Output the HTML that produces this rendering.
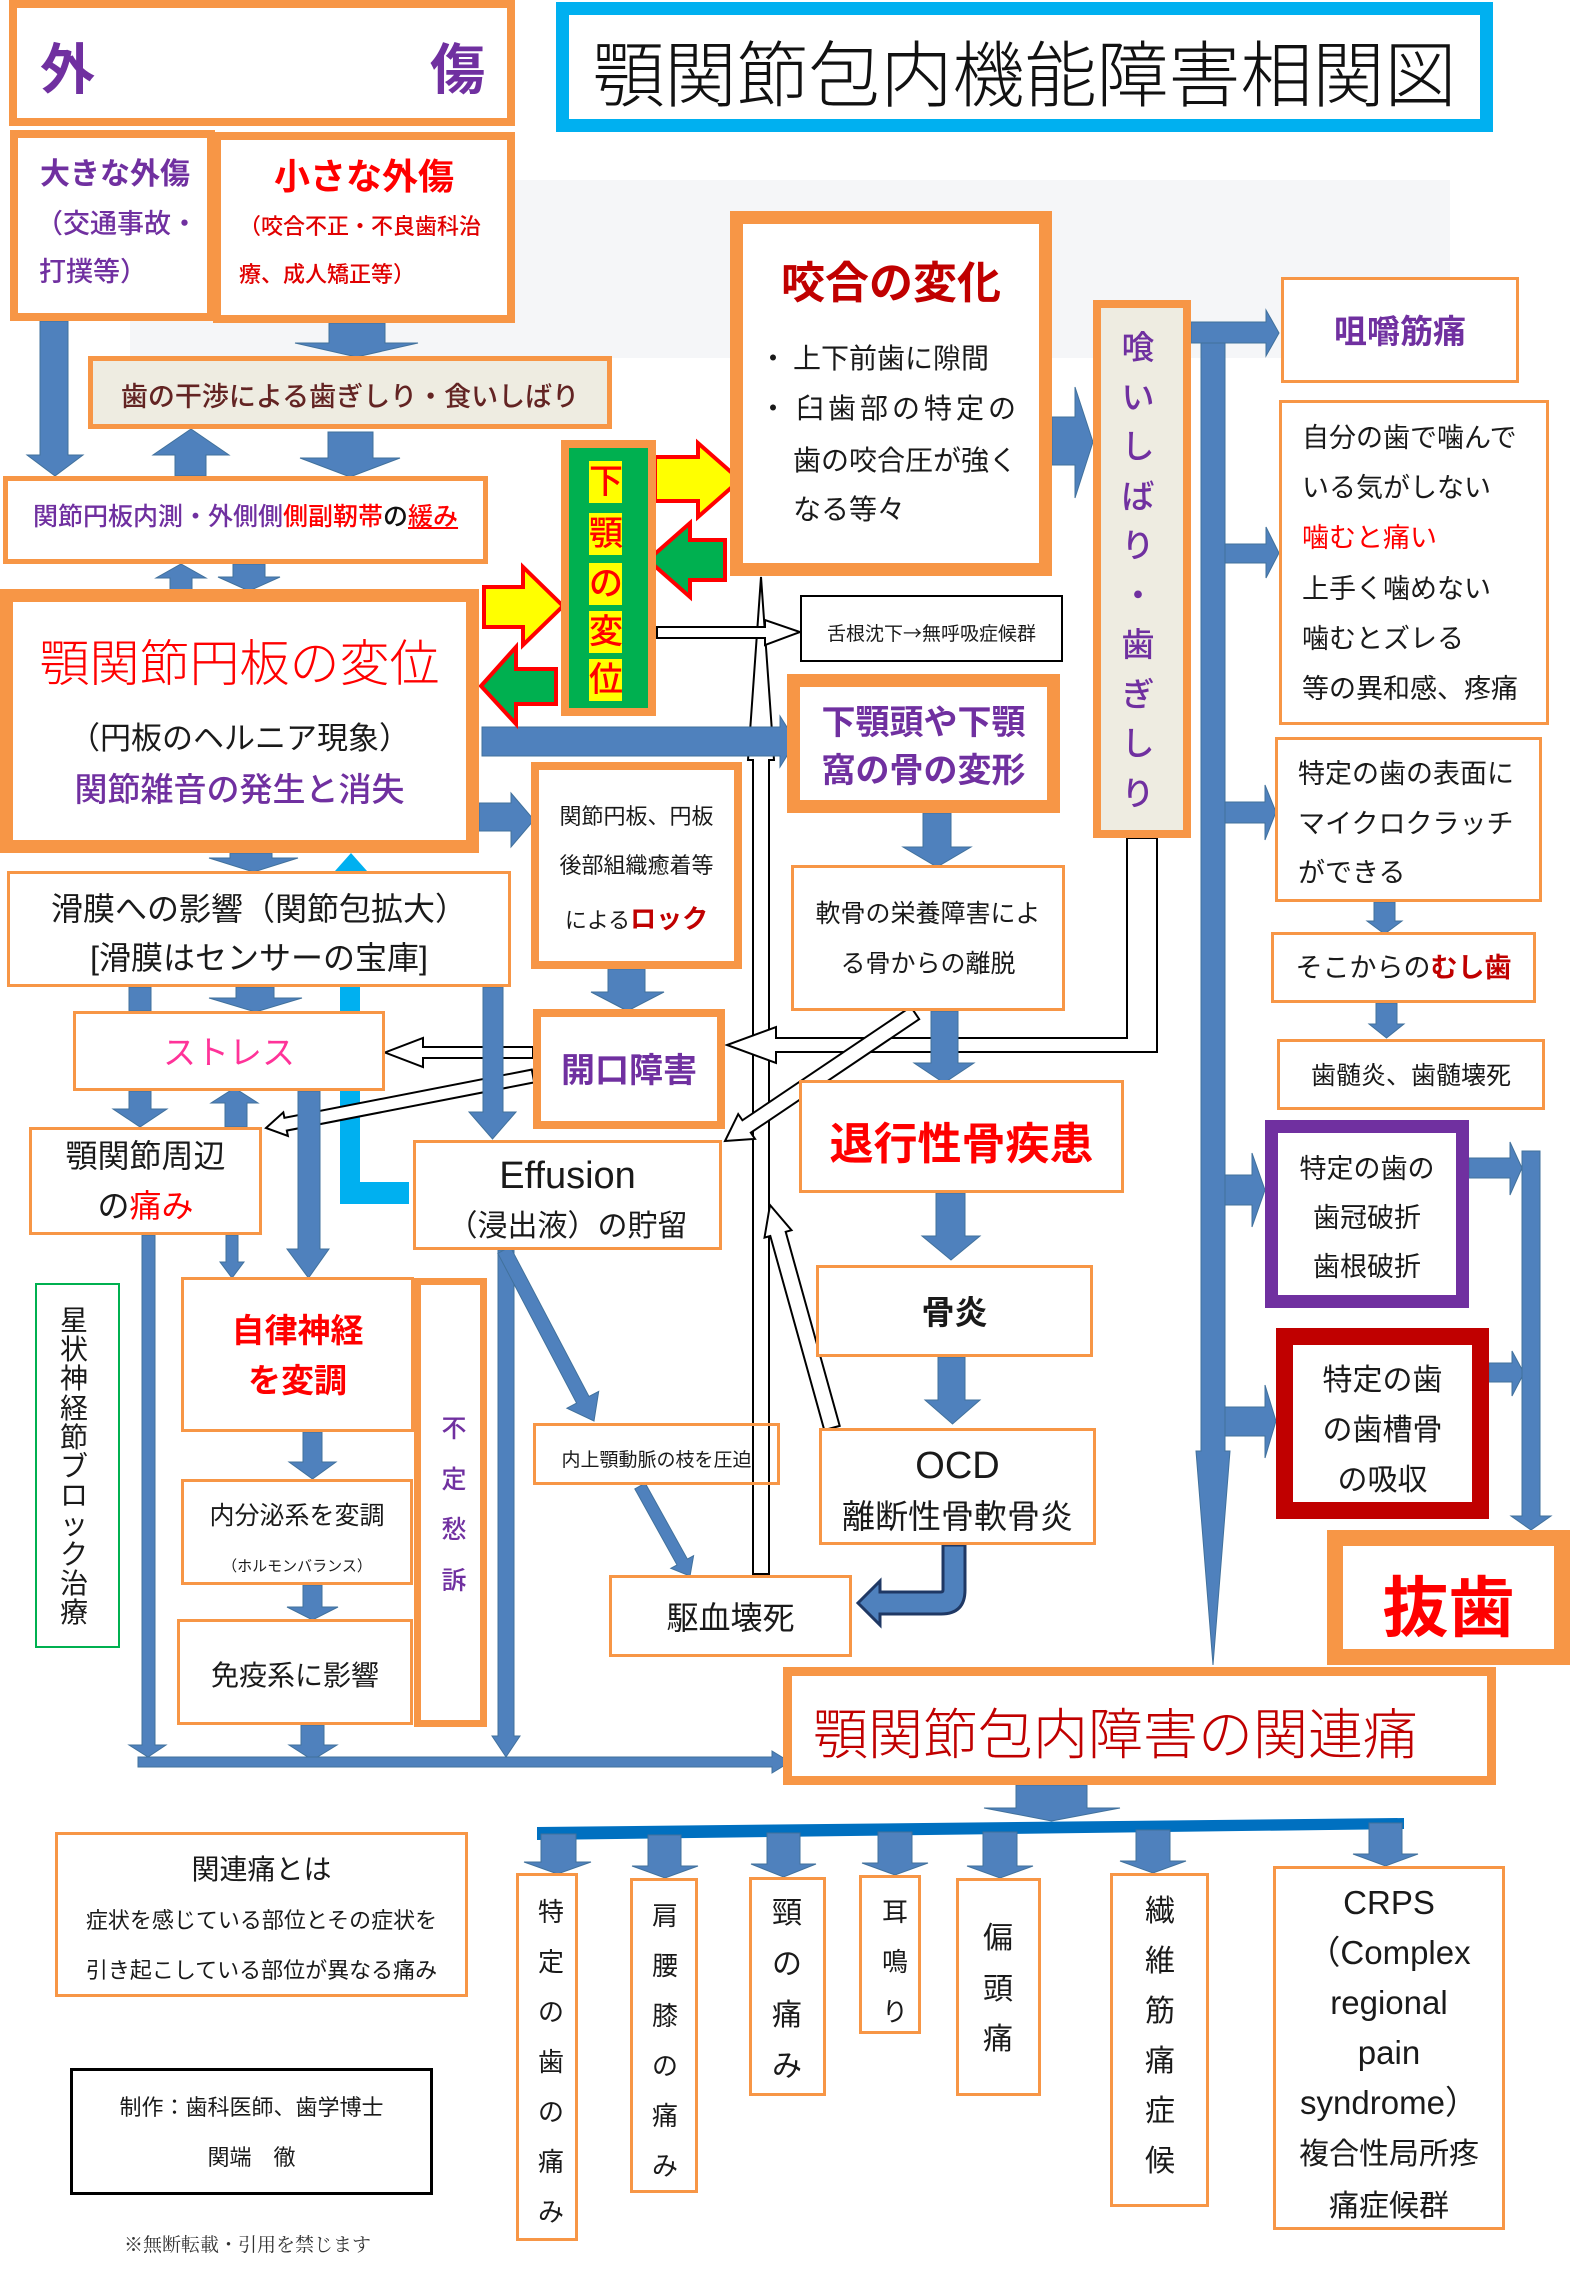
<!DOCTYPE html>
<html><head><meta charset="utf-8"><style>
html,body{margin:0;padding:0;background:#fff}
#p{position:relative;width:1570px;height:2270px;overflow:hidden;background:#fff;font-family:"Liberation Sans","Noto Sans CJK JP",sans-serif;color:#1a1a1a}
.b{position:absolute;box-sizing:border-box;border:3px solid #f79646;background:#fff}
.t{position:absolute;white-space:nowrap;line-height:1}
.c{text-align:center}
.v{position:absolute;text-align:center;white-space:nowrap}
.yc{position:absolute;left:589px;width:33px;height:42px;line-height:42px;background:#ffff00;color:#ff0000;font-size:34px;font-weight:500;text-align:center}
svg{position:absolute;left:0;top:0}
</style></head><body><div id="p">

<div style="position:absolute;left:130px;top:180px;width:1320px;height:178px;background:#f5f6f8"></div>

<svg width="1570" height="2270" viewBox="0 0 1570 2270">
<path d="M335,871 L351,853 L367,871 L360,871 L360,1182 L409,1182 L409,1204 L340,1204 L340,871 Z" fill="#00b0f0"/>
<g fill="#ffffff" stroke="#000" stroke-width="2" stroke-linejoin="miter">
<polygon points="753,1574 769,1574 769,760 774,760 761,577 748,760 753,760"/>
<polygon points="657,627 765,627 765,620 800,632 765,645 765,638 657,638"/>
<polygon points="1127,838 1127,1038 776,1038 776,1027 727,1045 776,1063 776,1052 1157,1052 1157,838"/>
<polygon points="533,1047 423,1047 423,1038 385,1052.5 423,1067 423,1058 533,1058"/>
<polygon points="534.2,1082.4 286.8,1130.6 287.9,1136 266,1128 283.3,1112.4 284.4,1117.8 531.8,1069.6"/>
<polygon points="919.2,1019.2 750.8,1132.7 755,1138.9 725,1141 738.2,1114.1 742.4,1120.3 910.8,1006.8"/>
<polygon points="839.7,1425.9 785.7,1231.8 791.5,1230.2 770,1205 764.5,1237.6 770.3,1236 824.3,1430.1"/>
</g>
<g fill="#4f81bd" stroke="#41719c" stroke-width="1">
<polygon points="40,321 68,321 68,455 83,455 55,476 27,455 40,455"/>
<polygon points="329,323 385,323 385,343 418,343 356.5,357 295,343 329,343"/>
<polygon points="175,476 206,476 206,455 229,455 191,429 153,455 175,455"/>
<polygon points="328,432 373,432 373,458 400,458 350,477 300,458 328,458"/>
<polygon points="170,590 192,590 192,578 206,578 181,564 156,578 170,578"/>
<polygon points="233,564 265,564 265,577 280,577 249,591 218,577 233,577"/>
<polygon points="482,727 780,727 780,716 796,741.5 780,767 780,756 482,756"/>
<polygon points="479,803 511,803 511,793 534,820 511,847 511,831 479,831"/>
<polygon points="230,853 272,853 272,858 298,858 253.5,872 209,858 230,858"/>
<rect x="129" y="987" width="22" height="24"/>
<polygon points="236,987 274,987 274,998 302,998 255.5,1012 209,998 236,998"/>
<polygon points="483,987 503,987 503,1112 516,1112 492.5,1139 469,1112 483,1112"/>
<polygon points="129,1091 151,1091 151,1109 167,1109 140,1127 113,1109 129,1109"/>
<polygon points="225,1127 247,1127 247,1103 258,1103 234.5,1088 211,1103 225,1103"/>
<polygon points="298,1091 320,1091 320,1249 329,1249 308.5,1278 287,1249 298,1249"/>
<polygon points="226,1235 238,1235 238,1262 244,1262 232,1278 220,1262 226,1262"/>
<polygon points="142,1235 155,1235 155,1745 166,1745 148,1757 129,1745 142,1745"/>
<polygon points="498,1250 514,1250 514,1736 520,1736 506,1757 492,1736 498,1736"/>
<polygon points="301,1725 324,1725 324,1745 337,1745 312.5,1760 289,1745 301,1745"/>
<polygon points="138,1757 772,1757 772,1751 790,1762 772,1773 772,1767 138,1767"/>
<polygon points="510.2,1246.7 589,1396.5 598.7,1391.4 594,1421 566.9,1408.2 576.6,1403.1 497.8,1253.3"/>
<polygon points="645.2,1483.1 687.4,1559.1 693.6,1555.7 690,1576 670.8,1568.3 677,1564.9 634.8,1488.9"/>
<polygon points="303,1432 322,1432 322,1462 336,1462 312.5,1479 289,1462 303,1462"/>
<polygon points="303,1585 322,1585 322,1607 338,1607 312.5,1620 287,1607 303,1607"/>
<polygon points="608,969 645,969 645,992 664,992 627.5,1011 591,992 608,992"/>
<polygon points="923,813 951,813 951,847 971,847 937,867 903,847 923,847"/>
<polygon points="931,1011 958,1011 958,1063 974,1063 944,1083 914,1063 931,1063"/>
<polygon points="936,1193 965,1193 965,1236 980,1236 951,1260 922,1236 936,1236"/>
<polygon points="938,1357 965,1357 965,1400 980,1400 952.5,1424 925,1400 938,1400"/>
<polygon points="1052,417 1075,417 1075,387 1093,442 1075,498 1075,465 1052,465"/>
<polygon points="1201,333 1225,333 1225,1451 1230,1451 1213,1665 1196,1451 1201,1451"/>
<polygon points="1191,322 1266,322 1266,310 1279,333 1266,356 1266,343 1191,343"/>
<polygon points="1225,544 1266,544 1266,527 1279,553 1266,578 1266,563 1225,563"/>
<polygon points="1225,802 1265,802 1265,785 1276,812 1265,840 1265,823 1225,823"/>
<polygon points="1225,1175 1252,1175 1252,1153 1265,1190 1252,1227 1252,1205 1225,1205"/>
<polygon points="1225,1407 1265,1407 1265,1385 1276,1421 1265,1458 1265,1436 1225,1436"/>
<polygon points="1469,1158 1510,1158 1510,1142 1522,1168 1510,1195 1510,1178 1469,1178"/>
<polygon points="1489,1363 1512,1363 1512,1351 1524,1373 1512,1396 1512,1382 1489,1382"/>
<polygon points="1522,1151 1540,1151 1540,1516 1551,1516 1531,1530 1511,1516 1522,1516"/>
<polygon points="1374,902 1395,902 1395,921 1402,921 1384.5,934 1367,921 1374,921"/>
<polygon points="1376,1003 1397,1003 1397,1024 1404,1024 1386.5,1038 1369,1024 1376,1024"/>
<polygon points="1016,1785 1087,1785 1087,1808 1120,1808 1051.5,1821 984,1808 1016,1808"/>
</g>
<polygon points="537,1827 1404,1818 1404,1829 537,1840" fill="#0070c0"/>
<g fill="#4f81bd" stroke="#41719c" stroke-width="1">
<polygon points="541,1834 576,1834 576,1862 591,1862 557.5,1874 524,1862 541,1862"/>
<polygon points="648,1835 681,1835 681,1866 698,1866 665,1878 632,1866 648,1866"/>
<polygon points="767,1833 800,1833 800,1864 816,1864 783.5,1877 751,1864 767,1864"/>
<polygon points="878,1832 912,1832 912,1863 928,1863 895,1875 862,1863 878,1863"/>
<polygon points="983,1832 1017,1832 1017,1866 1033,1866 1000,1878 967,1866 983,1866"/>
<polygon points="1136,1830 1170,1830 1170,1861 1186,1861 1153,1873 1120,1861 1136,1861"/>
<polygon points="1369,1823 1402,1823 1402,1854 1418,1854 1385.5,1866 1353,1854 1369,1854"/>
</g>
<path d="M943,1545 L965,1545 L965,1590 Q965,1614 941,1614 L880,1614 L880,1625 L858,1603 L880,1581 L880,1592 L941,1592 Q943,1592 943,1590 Z" fill="#4f81bd" stroke="#1f3864" stroke-width="3"/>
<g stroke="#ff0000" stroke-width="4" stroke-linejoin="miter">
<polygon points="655,457 698,457 698,443 740,480 698,517 698,501 655,501" fill="#ffff00"/>
<polygon points="725,540 690,540 690,523 648,560 690,597 690,580 725,580" fill="#00b050"/>
<polygon points="484,587 523,587 523,567 563,606 523,645 523,627 484,627" fill="#ffff00"/>
<polygon points="556,669 516,669 516,647 481,686 516,724 516,704 556,704" fill="#00b050"/>
</g>
</svg>

<!-- boxes -->
<div class="b" style="left:9px;top:0;width:506px;height:126px;border-width:8px"></div>
<div class="b" style="left:10px;top:130px;width:205px;height:191px;border-width:8px"></div>
<div class="b" style="left:213px;top:132px;width:302px;height:191px;border-width:8px"></div>
<div class="b" style="left:556px;top:2px;width:937px;height:130px;border:13px solid #00b0f0"></div>
<div class="b" style="left:88px;top:356px;width:524px;height:73px;border-width:5px;background:#eeece1"></div>
<div class="b" style="left:3px;top:476px;width:485px;height:88px;border-width:5px"></div>
<div class="b" style="left:561px;top:440px;width:95px;height:276px;border-width:8px;background:#00b050"></div>
<div class="b" style="left:730px;top:211px;width:322px;height:365px;border-width:13px"></div>
<div class="b" style="left:1093px;top:300px;width:98px;height:538px;border-width:8px;background:#eeece1"></div>
<div class="b" style="left:1281px;top:277px;width:238px;height:106px"></div>
<div class="b" style="left:1279px;top:400px;width:270px;height:325px"></div>
<div class="b" style="left:1275px;top:737px;width:267px;height:165px"></div>
<div class="b" style="left:1271px;top:932px;width:265px;height:71px"></div>
<div class="b" style="left:1277px;top:1039px;width:268px;height:71px"></div>
<div class="b" style="left:1265px;top:1120px;width:204px;height:188px;border:13px solid #7030a0"></div>
<div class="b" style="left:1276px;top:1328px;width:213px;height:191px;border:17px solid #c00000"></div>
<div class="b" style="left:1327px;top:1530px;width:243px;height:135px;border-width:16px"></div>
<div class="b" style="left:0;top:589px;width:479px;height:264px;border-width:13px"></div>
<div class="b" style="left:7px;top:871px;width:504px;height:116px"></div>
<div class="b" style="left:531px;top:762px;width:211px;height:207px;border-width:8px"></div>
<div class="b" style="left:800px;top:595px;width:263px;height:67px;border:2px solid #000"></div>
<div class="b" style="left:787px;top:674px;width:273px;height:139px;border-width:13px"></div>
<div class="b" style="left:791px;top:865px;width:274px;height:146px"></div>
<div class="b" style="left:533px;top:1009px;width:192px;height:120px;border-width:8px"></div>
<div class="b" style="left:73px;top:1011px;width:312px;height:80px"></div>
<div class="b" style="left:29px;top:1127px;width:233px;height:108px"></div>
<div class="b" style="left:413px;top:1140px;width:309px;height:110px"></div>
<div class="b" style="left:799px;top:1080px;width:325px;height:113px"></div>
<div class="b" style="left:816px;top:1265px;width:277px;height:92px"></div>
<div class="b" style="left:819px;top:1428px;width:277px;height:117px"></div>
<div class="b" style="left:533px;top:1423px;width:247px;height:62px;background:transparent"></div>
<div class="b" style="left:609px;top:1575px;width:243px;height:82px"></div>
<div class="b" style="left:35px;top:1283px;width:85px;height:365px;border:2px solid #00b050"></div>
<div class="b" style="left:181px;top:1277px;width:233px;height:155px"></div>
<div class="b" style="left:181px;top:1479px;width:232px;height:106px"></div>
<div class="b" style="left:177px;top:1619px;width:236px;height:106px"></div>
<div class="b" style="left:414px;top:1278px;width:73px;height:449px;border-width:7px"></div>
<div class="b" style="left:783px;top:1667px;width:713px;height:118px;border-width:9px"></div>
<div class="b" style="left:55px;top:1832px;width:413px;height:165px"></div>
<div class="b" style="left:70px;top:2068px;width:363px;height:127px;border:3px solid #000"></div>
<div class="b" style="left:516px;top:1873px;width:62px;height:368px"></div>
<div class="b" style="left:630px;top:1878px;width:68px;height:315px"></div>
<div class="b" style="left:749px;top:1877px;width:77px;height:219px"></div>
<div class="b" style="left:859px;top:1875px;width:62px;height:159px"></div>
<div class="b" style="left:956px;top:1878px;width:85px;height:218px"></div>
<div class="b" style="left:1110px;top:1873px;width:99px;height:334px"></div>
<div class="b" style="left:1273px;top:1866px;width:232px;height:364px"></div>

<!-- texts -->
<div class="t" style="left:40px;top:43px;font-size:55px;font-weight:700;color:#7030a0">外</div>
<div class="t" style="left:430px;top:43px;font-size:55px;font-weight:700;color:#7030a0">傷</div>
<div class="t" style="left:40px;top:160px;font-size:30px;font-weight:700;color:#7030a0">大きな外傷</div>
<div class="t" style="left:36px;top:211px;font-size:27px;font-weight:500;color:#7030a0">（交通事故・</div>
<div class="t" style="left:39px;top:259px;font-size:27px;font-weight:500;color:#7030a0">打撲等）</div>
<div class="t c" style="left:213px;width:302px;top:159px;font-size:36px;font-weight:700;color:#ff0000">小さな外傷</div>
<div class="t" style="left:239px;top:216px;font-size:22px;font-weight:500;color:#e00000">（咬合不正・不良歯科治</div>
<div class="t" style="left:239px;top:264px;font-size:22px;font-weight:500;color:#e00000">療、成人矯正等）</div>
<div class="t c" style="left:556px;width:937px;top:41px;font-size:72px;font-weight:300;color:#111">顎関節包内機能障害相関図</div>
<div class="t c" style="left:88px;width:524px;top:384px;font-size:27px;font-weight:500;color:#632423">歯の干渉による歯ぎしり・食いしばり</div>
<div class="t c" style="left:3px;width:485px;top:505px;font-size:25px;font-weight:500;color:#7030a0">関節円板内測・外側側<span style="color:#ff0000">側副靭帯</span><span style="color:#111">の</span><span style="color:#ff0000;text-decoration:underline">緩み</span></div>

<div class="yc" style="top:461px">下</div>
<div class="yc" style="top:513px">顎</div>
<div class="yc" style="top:563px">の</div>
<div class="yc" style="top:611px">変</div>
<div class="yc" style="top:659px">位</div>

<div class="t c" style="left:730px;width:322px;top:262px;font-size:44px;font-weight:700;color:#c00000">咬合の変化</div>
<div class="t" style="left:759px;top:345px;font-size:28px">・</div>
<div class="t" style="left:793px;top:345px;font-size:28px">上下前歯に隙間</div>
<div class="t" style="left:759px;top:395px;font-size:28px">・</div>
<div class="t" style="left:796px;top:395px;font-size:28px;letter-spacing:4px">臼歯部の特定の</div>
<div class="t" style="left:793px;top:447px;font-size:28px">歯の咬合圧が強く</div>
<div class="t" style="left:793px;top:496px;font-size:28px">なる等々</div>

<div class="v" style="left:1105px;width:66px;top:323px;font-size:33px;line-height:49.5px;color:#7030a0;font-weight:500">喰<br>い<br>し<br>ば<br>り<br>・<br>歯<br>ぎ<br>し<br>り</div>

<div class="t c" style="left:1281px;width:238px;top:315px;font-size:33px;font-weight:700;color:#7030a0">咀嚼筋痛</div>
<div class="t" style="left:1302px;top:413px;font-size:27px;line-height:50.2px">自分の歯で噛んで<br>いる気がしない<br><span style="color:#ff0000">噛むと痛い</span><br>上手く噛めない<br>噛むとズレる<br>等の異和感、疼痛</div>
<div class="t" style="left:1298px;top:750px;font-size:27px;line-height:49.5px">特定の歯の表面に<br>マイクロクラッチ<br>ができる</div>
<div class="t c" style="left:1271px;width:265px;top:955px;font-size:27px">そこからの<span style="color:#c00000;font-weight:700">むし歯</span></div>
<div class="t c" style="left:1277px;width:268px;top:1064px;font-size:25px">歯髄炎、歯髄壊死</div>
<div class="t c" style="left:1265px;width:204px;top:1145px;font-size:27px;line-height:49px">特定の歯の<br>歯冠破折<br>歯根破折</div>
<div class="t c" style="left:1276px;width:213px;top:1356px;font-size:30px;line-height:50px">特定の歯<br>の歯槽骨<br>の吸収</div>
<div class="t c" style="left:1327px;width:243px;top:1575px;font-size:66px;font-weight:700;color:#ff0000">抜歯</div>

<div class="t c" style="left:0;width:479px;top:639px;font-size:50px;font-weight:300;color:#ff0000">顎関節円板の変位</div>
<div class="t c" style="left:0;width:479px;top:723px;font-size:31px">（円板のヘルニア現象）</div>
<div class="t c" style="left:0;width:479px;top:773px;font-size:33px;font-weight:500;color:#7030a0">関節雑音の発生と消失</div>

<div class="t c" style="left:7px;width:504px;top:893px;font-size:32px">滑膜への影響（関節包拡大）</div>
<div class="t c" style="left:7px;width:504px;top:942px;font-size:32px">[滑膜はセンサーの宝庫]</div>

<div class="t c" style="left:531px;width:211px;top:806px;font-size:22px">関節円板、円板</div>
<div class="t c" style="left:531px;width:211px;top:855px;font-size:22px">後部組織癒着等</div>
<div class="t c" style="left:531px;width:211px;top:906px;font-size:22px">による<span style="font-size:26px;font-weight:700;color:#c00000">ロック</span></div>

<div class="t c" style="left:800px;width:263px;top:623px;font-size:19px">舌根沈下<span style="font-family:'Noto Sans CJK JP',sans-serif">→</span>無呼吸症候群</div>
<div class="t c" style="left:787px;width:273px;top:699px;font-size:34px;line-height:48px;font-weight:700;color:#7030a0">下顎頭や下顎<br>窩の骨の変形</div>
<div class="t c" style="left:791px;width:274px;top:889px;font-size:25px;line-height:50px">軟骨の栄養障害によ<br>る骨からの離脱</div>
<div class="t c" style="left:533px;width:192px;top:1054px;font-size:34px;font-weight:700;color:#7030a0">開口障害</div>
<div class="t c" style="left:73px;width:312px;top:1036px;font-size:33px;color:#ff3399">ストレス</div>
<div class="t c" style="left:29px;width:233px;top:1131px;font-size:32px;line-height:50px">顎関節周辺<br>の<span style="color:#ff0000">痛み</span></div>
<div class="t c" style="left:413px;width:309px;top:1157px;font-size:38px">Effusion</div>
<div class="t c" style="left:413px;width:309px;top:1212px;font-size:30px">（浸出液）の貯留</div>
<div class="t c" style="left:799px;width:325px;top:1123px;font-size:44px;font-weight:700;color:#ff0000">退行性骨疾患</div>
<div class="t c" style="left:816px;width:277px;top:1296px;font-size:33px;font-weight:700">骨炎</div>
<div class="t c" style="left:819px;width:277px;top:1447px;font-size:38px">OCD</div>
<div class="t c" style="left:819px;width:277px;top:1500px;font-size:33px">離断性骨軟骨炎</div>
<div class="t c" style="left:533px;width:247px;top:1451px;font-size:19px">内上顎動脈の枝を圧迫</div>
<div class="t c" style="left:609px;width:243px;top:1602px;font-size:32px">駆血壊死</div>

<div class="v" style="left:46px;width:56px;top:1306px;font-size:28px;line-height:29.2px">星<br>状<br>神<br>経<br>節<br>ブ<br>ロ<br>ッ<br>ク<br>治<br>療</div>
<div class="t c" style="left:181px;width:233px;top:1306px;font-size:33px;line-height:50px;font-weight:700;color:#ff0000">自律神経<br>を変調</div>
<div class="t c" style="left:181px;width:232px;top:1504px;font-size:25px">内分泌系を変調</div>
<div class="t c" style="left:181px;width:232px;top:1559px;font-size:15px">（ホルモンバランス）</div>
<div class="t c" style="left:177px;width:236px;top:1662px;font-size:28px">免疫系に影響</div>
<div class="v" style="left:429px;width:50px;top:1404px;font-size:25px;line-height:50.5px;color:#7030a0;font-weight:500">不<br>定<br>愁<br>訴</div>

<div class="t" style="left:813px;top:1708px;font-size:55px;font-weight:300;color:#c00000">顎関節包内障害の関連痛</div>

<div class="t c" style="left:55px;width:413px;top:1856px;font-size:28px">関連痛とは</div>
<div class="t c" style="left:55px;width:413px;top:1910px;font-size:22px">症状を感じている部位とその症状を</div>
<div class="t c" style="left:55px;width:413px;top:1960px;font-size:22px">引き起こしている部位が異なる痛み</div>
<div class="t c" style="left:70px;width:363px;top:2097px;font-size:22px">制作：歯科医師、歯学博士</div>
<div class="t c" style="left:70px;width:363px;top:2147px;font-size:22px">関端　徹</div>
<div class="t" style="left:124px;top:2236px;font-size:19px;color:#333;font-family:'Liberation Serif','Noto Serif CJK SC',serif">※無断転載・引用を禁じます</div>

<div class="v" style="left:521px;width:60px;top:1887px;font-size:26px;line-height:50px">特<br>定<br>の<br>歯<br>の<br>痛<br>み</div>
<div class="v" style="left:635px;width:60px;top:1891px;font-size:26px;line-height:50px">肩<br>腰<br>膝<br>の<br>痛<br>み</div>
<div class="v" style="left:757px;width:60px;top:1888px;font-size:30px;line-height:51px">頸<br>の<br>痛<br>み</div>
<div class="v" style="left:865px;width:60px;top:1887px;font-size:26px;line-height:50px">耳<br>鳴<br>り</div>
<div class="v" style="left:968px;width:60px;top:1914px;font-size:30px;line-height:50.5px">偏<br>頭<br>痛</div>
<div class="v" style="left:1130px;width:60px;top:1887px;font-size:30px;line-height:50px">繊<br>維<br>筋<br>痛<br>症<br>候</div>
<div class="t c" style="left:1273px;width:232px;top:1878px;font-size:33px;line-height:50px">CRPS<br>（Complex<br>regional<br>pain<br>syndrome）<br><span style="font-size:30px">複合性局所疼</span><br><span style="font-size:30px">痛症候群</span></div>

</div></body></html>
